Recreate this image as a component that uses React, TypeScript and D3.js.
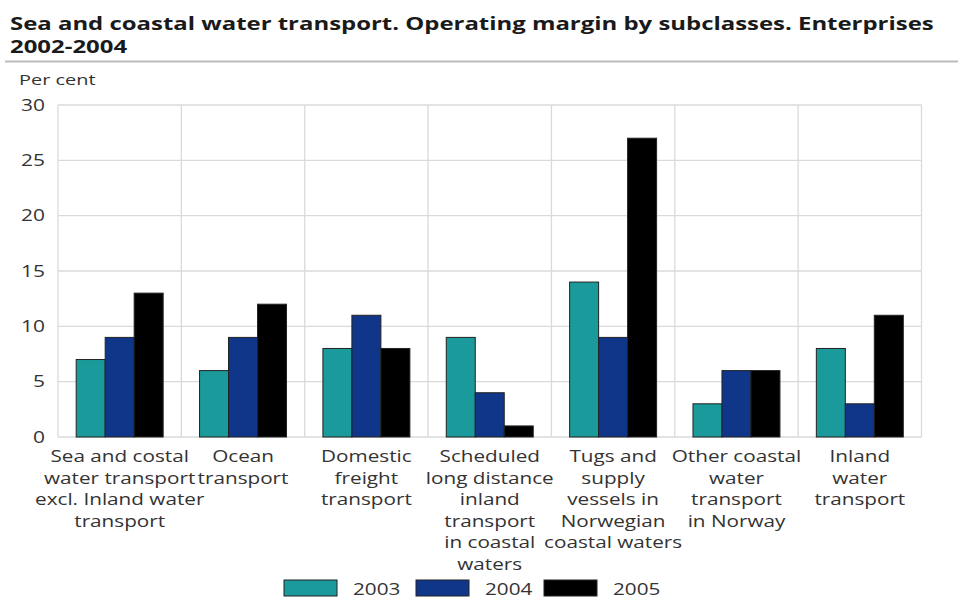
import React from "react";
import * as d3 from "d3";

const categories: string[][] = [
  ["Sea and costal", "water transport", "excl. Inland water", "transport"],
  ["Ocean", "transport"],
  ["Domestic", "freight", "transport"],
  ["Scheduled", "long distance", "inland", "transport", "in coastal", "waters"],
  ["Tugs and", "supply", "vessels in", "Norwegian", "coastal waters"],
  ["Other coastal", "water", "transport", "in Norway"],
  ["Inland", "water", "transport"],
];
const years = ["2003", "2004", "2005"];
const s2003 = [7, 6, 8, 9, 14, 3, 8];
const s2004 = [9, 9, 11, 4, 9, 6, 3];
const s2005 = [13, 12, 8, 1, 27, 6, 11];
const yTicks = [0, 5, 10, 15, 20, 25, 30];
const colors = ["#1a9a9a", "#10368a", "#000000"];

const font = "'Open Sans', 'DejaVu Sans', sans-serif";

function T(props: {
  x: number;
  y: number;
  sx: number;
  size: number;
  anchor?: string;
  weight?: string;
  fill?: string;
  children: React.ReactNode;
}) {
  const { x, y, sx, size, anchor = "start", weight = "normal", fill = "#333", children } = props;
  return (
    <text
      transform={`translate(${x},${y}) scale(${sx},1)`}
      fontSize={size}
      fontWeight={weight}
      fill={fill}
      textAnchor={anchor}
      fontFamily={font}
    >
      {children}
    </text>
  );
}

export default function App() {
  const W = 958, H = 602;
  const left = 58, right = 921.5, top = 105, bottom = 437;
  const series = [s2003, s2004, s2005];
  const x = d3.scaleBand<number>().domain(d3.range(categories.length)).range([left, right]).padding(0);
  const y = d3.scaleLinear().domain([0, 30]).range([bottom, top]);
  const bw = x.bandwidth();
  const groupW = bw * 0.705;
  const barW = groupW / 3;
  const offset = (bw - groupW) / 2;

  return (
    <svg width={W} height={H} style={{ position: "absolute", left: 0, top: 0, background: "#fff" }} fontFamily={font}>
      <rect x={0} y={0} width={W} height={H} fill="#fff" />
      <T x={10} y={30} sx={1.33} size={18} weight="bold" fill="#1a1a1a">
        Sea and coastal water transport. Operating margin by subclasses. Enterprises
      </T>
      <T x={10} y={53} sx={1.33} size={18} weight="bold" fill="#1a1a1a">2002-2004</T>
      <line x1={5} x2={958} y1={61.5} y2={61.5} stroke="#bbb" strokeWidth={2} />
      <T x={19} y={85} sx={1.33} size={15} fill="#333">Per cent</T>
      {yTicks.map((t) => (
        <g key={t}>
          <line x1={left} x2={right} y1={y(t)} y2={y(t)} stroke="#dadada" strokeWidth={1.3} />
          <T x={45} y={y(t) + 5.5} sx={1.35} size={15.5} fill="#333" anchor="end">{t}</T>
        </g>
      ))}
      {d3.range(categories.length + 1).map((i) => {
        const xx = i < categories.length ? (x(i) as number) : right;
        return <line key={i} x1={xx} x2={xx} y1={top} y2={bottom} stroke="#dadada" strokeWidth={1.3} />;
      })}
      {categories.map((_, i) =>
        series.map((s, j) => (
          <rect
            key={`${i}-${j}`}
            x={(x(i) as number) + offset + j * barW}
            y={y(s[i])}
            width={barW}
            height={y(0) - y(s[i])}
            fill={colors[j]}
            stroke="#222"
            strokeWidth={1}
          />
        ))
      )}
      {categories.map((lines, i) =>
        lines.map((l, k) => (
          <T key={`${i}-${k}`} x={(x(i) as number) + bw / 2} y={462 + k * 21.5} sx={1.27} size={16.3} anchor="middle" fill="#333">
            {l}
          </T>
        ))
      )}
      {years.map((yr, j) => {
        const lx = [284, 416, 544][j];
        return (
          <g key={yr}>
            <rect x={lx} y={580} width={53} height={16} fill={colors[j]} stroke="#222" strokeWidth={1} />
            <T x={lx + 69} y={595} sx={1.27} size={16.3} fill="#333">{yr}</T>
          </g>
        );
      })}
    </svg>
  );
}
